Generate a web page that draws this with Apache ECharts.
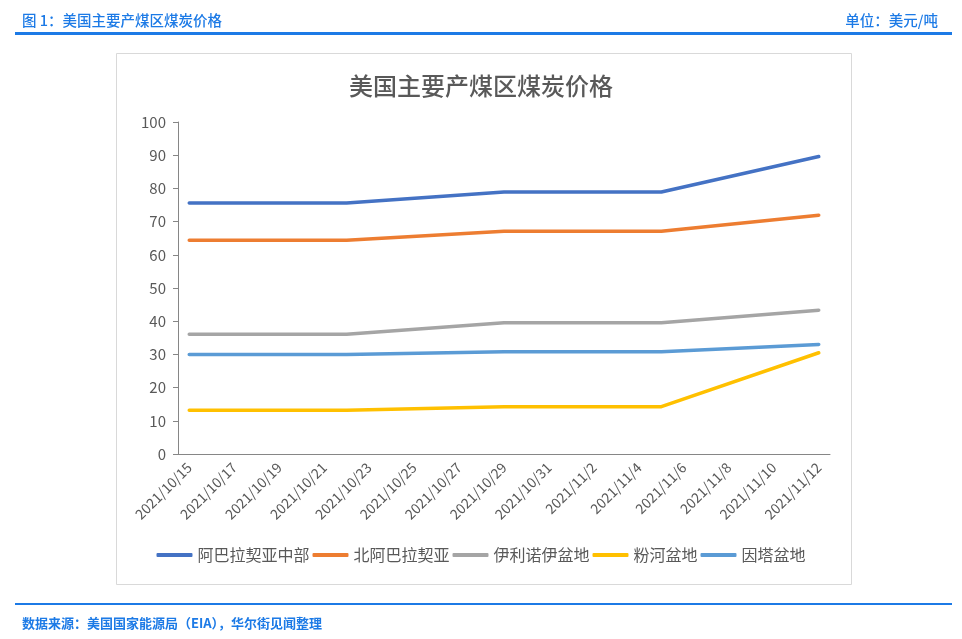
<!DOCTYPE html>
<html>
<head>
<meta charset="utf-8">
<script src="https://cdn.jsdelivr.net/npm/echarts@6/dist/echarts.min.js"></script>
<style>
  html, body { margin: 0; padding: 0; background: #fff; }
  #chart { width: 962px; height: 639px; }
</style>
</head>
<body>
<div id="chart"></div>
<script>
// Fechas del eje (una por día, etiquetas cada 2 días)
const dates = [
  '2021/10/15', '2021/10/16', '2021/10/17', '2021/10/18', '2021/10/19', '2021/10/20',
  '2021/10/21', '2021/10/22', '2021/10/23', '2021/10/24', '2021/10/25', '2021/10/26',
  '2021/10/27', '2021/10/28', '2021/10/29', '2021/10/30', '2021/10/31', '2021/11/1',
  '2021/11/2', '2021/11/3', '2021/11/4', '2021/11/5', '2021/11/6', '2021/11/7',
  '2021/11/8', '2021/11/9', '2021/11/10', '2021/11/11', '2021/11/12'
];
// Fechas con dato semanal
const pointDates = ['2021/10/15', '2021/10/22', '2021/10/29', '2021/11/5', '2021/11/12'];

const seriesNames = ['阿巴拉契亚中部', '北阿巴拉契亚', '伊利诺伊盆地', '粉河盆地', '因塔盆地'];
const centralApp = [75.6, 75.6, 78.9, 78.9, 89.6];
const northApp = [64.4, 64.4, 67.1, 67.1, 71.9];
const illinois = [36.1, 36.1, 39.5, 39.5, 43.3];
const powderRiver = [13.15, 13.15, 14.25, 14.25, 30.5];
const uinta = [30.0, 30.0, 30.8, 30.8, 33.0];
const yTicks = [0, 10, 20, 30, 40, 50, 60, 70, 80, 90, 100];

const colors = ['#4472C4', '#ED7D31', '#A5A5A5', '#FFC000', '#5B9BD5'];
const values = [centralApp, northApp, illinois, powderRiver, uinta];

// Coloca cada valor en su fecha; el resto queda vacío y se conecta
function toCategoryData(vals) {
  return dates.map(d => {
    const i = pointDates.indexOf(d);
    return i >= 0 ? vals[i] : null;
  });
}

const chart = echarts.init(document.getElementById('chart'));
const blue = '#1C7AE6';
const font = '"Noto Sans CJK SC", "Noto Sans", sans-serif';

chart.setOption({
  backgroundColor: '#fff',
  textStyle: { fontFamily: font },
  title: [
    {
      text: '图 1：美国主要产煤区煤炭价格',
      left: 17, top: 8,
      textStyle: { color: blue, fontSize: 14.5, fontWeight: 500, fontFamily: font }
    },
    {
      text: '单位：美元/吨',
      right: 19, top: 8,
      textStyle: { color: blue, fontSize: 14.5, fontWeight: 500, fontFamily: font }
    },
    {
      text: '美国主要产煤区煤炭价格',
      left: 'center', top: 69,
      textStyle: { color: '#595959', fontSize: 24, fontWeight: 500, fontFamily: font }
    },
    {
      text: '数据来源：美国国家能源局（EIA），华尔街见闻整理',
      left: 17, top: 612,
      textStyle: { color: blue, fontSize: 13, fontWeight: 'bold', fontFamily: font }
    }
  ],
  graphic: [
    { type: 'rect', shape: { x: 15, y: 32, width: 937, height: 3 }, style: { fill: blue } },
    { type: 'rect', shape: { x: 15, y: 603, width: 937, height: 2 }, style: { fill: blue } },
    { type: 'rect', shape: { x: 116.5, y: 53.5, width: 735, height: 531 }, style: { fill: 'none', stroke: '#D9D9D9', lineWidth: 1 } }
  ],
  legend: {
    bottom: 71, left: 'center',
    itemWidth: 36, itemHeight: 4, itemGap: 3,
    icon: 'roundRect',
    textStyle: { color: '#595959', fontSize: 16, fontFamily: font },
    data: seriesNames
  },
  grid: { left: 178, right: 132, top: 122, bottom: 185 },
  xAxis: {
    type: 'category',
    data: dates,
    boundaryGap: true,
    axisLine: { lineStyle: { color: '#868686', width: 1 } },
    axisTick: { interval: 1, length: 5, lineStyle: { color: '#868686' } },
    axisLabel: { interval: 1, rotate: 45, color: '#595959', fontSize: 14, margin: 11, fontFamily: font }
  },
  yAxis: {
    type: 'value',
    min: yTicks[0], max: yTicks[yTicks.length - 1], interval: 10,
    axisLine: { show: true, lineStyle: { color: '#868686', width: 1 } },
    axisTick: { show: true, length: 5, lineStyle: { color: '#868686' } },
    splitLine: { show: false },
    axisLabel: { color: '#595959', fontSize: 15, margin: 12, fontFamily: font }
  },
  series: seriesNames.map((name, i) => ({
    name: name,
    type: 'line',
    data: toCategoryData(values[i]),
    connectNulls: true,
    showSymbol: false,
    symbol: 'none',
    color: colors[i],
    lineStyle: { width: 3.5, color: colors[i], cap: 'round', join: 'round' }
  }))
});
</script>
</body>
</html>
